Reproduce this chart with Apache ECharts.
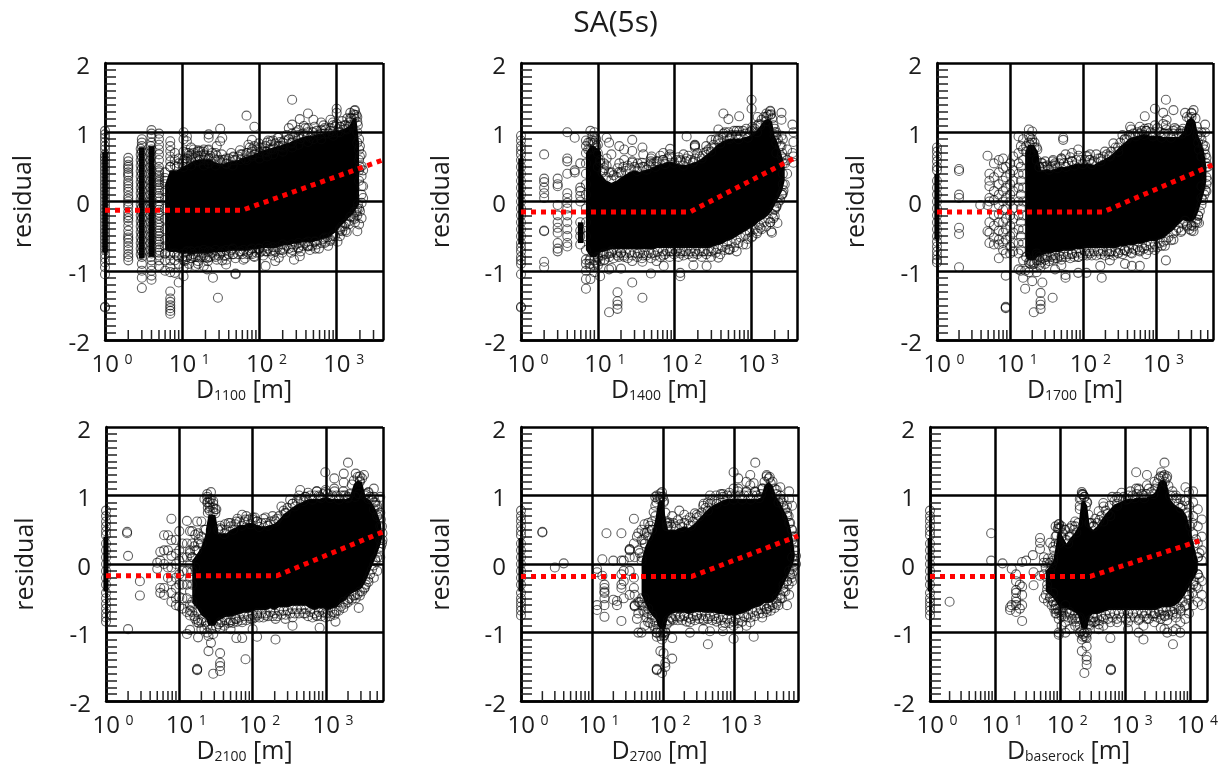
<!DOCTYPE html>
<html><head><meta charset="utf-8">
<style>html,body{margin:0;padding:0;background:#fff}#c{width:1231px;height:765px}</style>
<script src="https://cdn.jsdelivr.net/npm/echarts@6/dist/echarts.min.js"></script>
</head><body><div id="c"></div>
<script>
const title='SA(5s)';
const yTicks=[2,1,0,-1,-2];
const names=['1100','1400','1700','2100','2700','baserock'];
const xMaxes=[3980,3900,5900,6000,8000,18000];
const fit1=[[1,-.125],[60,-.125],[3980,.6]];
const fit2=[[1,-.15],[158,-.15],[3650,.63]];
const fit3=[[1,-.15],[187,-.15],[5900,.53]];
const fit4=[[1,-.17],[215,-.17],[6000,.47]];
const fit5=[[1,-.18],[256,-.18],[8000,.41]];
const fit6=[[1,-.18],[290,-.18],[15000,.35]];

// main black mass: [x, upper edge, lower edge]
const mass1=[[6,.3,-.75],[7,.5,-.78],[8.5,.5,-.78],[10,.55,-.8],[11.5,.58,-.8],[13,.62,-.82],[15,.65,-.8],[17.5,.66,-.8],[20,.66,-.8],[23,.66,-.8],[26,.62,-.78],[30,.6,-.78],[35,.6,-.78],[40,.62,-.76],[46,.64,-.76],[53,.65,-.76],[60,.68,-.76],[70,.7,-.76],[80,.72,-.74],[92,.75,-.74],[105,.78,-.72],[120,.8,-.72],[140,.82,-.72],[160,.84,-.72],[185,.86,-.7],[210,.88,-.68],[240,.9,-.68],[275,.93,-.66],[320,.96,-.66],[365,.98,-.64],[420,1,-.64],[480,1,-.64],[550,1.02,-.62],[630,1.03,-.6],[720,1.04,-.58],[830,1.06,-.55],[950,1.08,-.5],[1100,1.08,-.42],[1250,1.1,-.36],[1450,1.14,-.28],[1650,1.26,-.22],[1800,1.25,-.15],[1950,.9,-.1]];
const mass2=[[10,.5,-.8],[11.5,.42,-.78],[13,.35,-.76],[15,.32,-.74],[17.5,.35,-.74],[20,.4,-.74],[23,.44,-.74],[26,.48,-.74],[30,.5,-.74],[35,.48,-.74],[40,.5,-.74],[46,.52,-.74],[53,.55,-.74],[60,.58,-.72],[70,.6,-.72],[80,.62,-.72],[92,.62,-.72],[105,.6,-.72],[120,.58,-.72],[140,.58,-.72],[160,.6,-.72],[185,.62,-.72],[210,.65,-.72],[240,.7,-.72],[275,.75,-.72],[320,.82,-.7],[365,.88,-.68],[420,.92,-.66],[480,.95,-.62],[550,.96,-.6],[630,.96,-.56],[720,.96,-.52],[830,.98,-.48],[950,1,-.44],[1100,1.05,-.4],[1250,1.12,-.34],[1450,1.22,-.3],[1650,1.25,-.25],[1850,1.2,-.18],[2000,1,-.1],[2200,.9,-.02],[2500,.7,.1],[2700,.55,.25]];
const mass3=[[25,.5,-.85],[28,.5,-.82],[32,.52,-.8],[36,.5,-.8],[41,.52,-.78],[47,.55,-.78],[54,.55,-.76],[62,.56,-.76],[70,.58,-.76],[80,.6,-.74],[92,.6,-.74],[105,.6,-.72],[120,.6,-.72],[140,.58,-.72],[160,.62,-.72],[185,.65,-.72],[210,.68,-.72],[240,.72,-.72],[275,.78,-.72],[320,.85,-.7],[365,.9,-.7],[420,.96,-.68],[480,.98,-.68],[550,1,-.66],[630,1.02,-.66],[720,1.02,-.64],[830,1,-.62],[950,1,-.62],[1100,1,-.6],[1250,.98,-.58],[1450,.98,-.52],[1700,.98,-.46],[2000,.98,-.38],[2300,1.05,-.32],[2600,1.22,-.34],[3000,1.27,-.34],[3400,1.2,-.3],[3700,1,-.2],[4100,.9,-.05],[4500,.75,.1],[4800,.55,.25]];
const mass4=[[15,.1,-.62],[17.5,.2,-.7],[20,.3,-.8],[23,.5,-.85],[34,.5,-.88],[38,.5,-.85],[44,.5,-.82],[50,.55,-.82],[58,.58,-.8],[66,.62,-.78],[76,.62,-.76],[88,.65,-.76],[100,.65,-.74],[115,.62,-.72],[132,.6,-.72],[150,.6,-.72],[175,.62,-.7],[200,.64,-.72],[230,.7,-.68],[265,.78,-.68],[300,.82,-.68],[350,.88,-.66],[400,.92,-.66],[460,.95,-.66],[530,.98,-.66],[610,1,-.7],[700,1,-.72],[800,1,-.7],[920,1.02,-.7],[1060,1.02,-.72],[1220,1,-.7],[1400,1,-.68],[1600,1,-.62],[1850,1,-.58],[2100,1.02,-.5],[2400,1.22,-.46],[2700,1.27,-.44],[3100,1.25,-.4],[3500,1.02,-.3],[4000,.98,-.15],[4500,.9,-.02],[5000,.8,.1],[5600,.65,.25],[5900,.45,.35]];
const mass5=[[50,.1,-.5],[56,.3,-.62],[62,.4,-.72],[70,.5,-.8],[78,.7,-.85],[85,.95,-.95],[92,.98,-1],[100,.98,-1],[108,.75,-1],[118,.55,-.82],[130,.55,-.78],[150,.55,-.76],[175,.58,-.76],[200,.6,-.76],[230,.58,-.78],[265,.62,-.76],[300,.68,-.75],[350,.75,-.75],[400,.82,-.76],[460,.88,-.76],[530,.92,-.76],[610,.95,-.78],[700,.98,-.78],[800,1,-.8],[920,1,-.8],[1060,1,-.8],[1220,1,-.78],[1400,1,-.76],[1600,1,-.74],[1850,1,-.7],[2100,1,-.68],[2400,1.02,-.66],[2700,1.2,-.62],[3100,1.25,-.62],[3500,1.2,-.6],[4000,1.02,-.55],[4500,.95,-.45],[5000,.85,-.35],[5600,.75,-.25],[6200,.6,-.15],[6800,.4,-.05],[7200,.2,.05]];
const mass6=[[60,-.05,-.45],[70,.02,-.5],[78,.1,-.55],[85,.3,-.6],[92,.52,-.65],[100,.52,-.68],[110,.45,-.7],[125,.35,-.7],[140,.42,-.72],[165,.5,-.75],[190,.6,-.8],[210,.95,-.98],[235,.98,-1],[260,.9,-1],[285,.6,-.82],[320,.55,-.78],[370,.6,-.78],[430,.7,-.76],[500,.78,-.74],[580,.85,-.72],[680,.92,-.72],[800,.95,-.72],[950,.98,-.72],[1100,1,-.72],[1300,1,-.72],[1500,1.02,-.72],[1800,1.02,-.72],[2100,1.02,-.72],[2500,1.05,-.72],[2900,1.1,-.72],[3300,1.25,-.7],[3800,1.28,-.68],[4300,1.25,-.68],[4900,1,-.68],[5700,.92,-.66],[6600,.88,-.62],[7600,.85,-.55],[8800,.75,-.45],[10000,.55,-.35],[11500,.3,-.25],[13000,.1,-.15]];

// narrow solid columns at repeated distances
const bands1=[
 [[.92,-.74],[1.09,-.74],[1.09,.72],[.92,.72]],
 [[2.75,-.82],[3.25,-.82],[3.25,.78],[2.75,.78]],
 [[3.65,-.8],[4.35,-.8],[4.35,.8],[3.65,.8]]];
const bands2=[
 [[.92,-.62],[1.08,-.62],[1.08,.62],[.92,.62]],
 [[7,-.7],[8,-.8],[9.5,-.8],[11,-.7],[11,.72],[9,.8],[8,.8],[7,.7]],
 [[5.5,-.6],[6.5,-.6],[6.5,-.3],[5.5,-.3]]];
const bands3=[
 [[.92,-.55],[1.08,-.55],[1.08,.4],[.92,.4]],
 [[16,-.78],[17.5,-.85],[21,-.85],[27,-.75],[27,.4],[24,.72],[21,.82],[17.5,.82],[16,.7]]];
const bands4=[
 [[.92,-.4],[1.08,-.4],[1.08,.4],[.92,.4]],
 [[23,-.8],[25,-.9],[31,-.9],[34,-.8],[34,.5],[31,.72],[25,.72],[23,.5]]];
const bands5=[[[.92,-.4],[1.08,-.4],[1.08,.38],[.92,.38]]];
const bands6=[[[.92,-.4],[1.08,-.4],[1.08,.38],[.92,.38]]];

// second ring of circles around the mass
const fringe1=[[10.8,.62,-.86],[12.2,.66,.7,-.9],[14,.7,-.76],[16,.74,-.86],[18.7,.72,-.74],[21.5,.6,.74,-.86],[24.5,.7,-.74],[28,.66,-.84],[32.5,.68,-.72],[37.5,.54,-.84],[43,.7,-.7],[49,.6,-.82],[56,.74,-.72],[65,.62,-.82],[75,.78,-.7],[86,.68,-.8],[98,.84,-.68],[112,.72,-.78],[130,.88,-.68],[150,.78,-.78],[172,.92,-.66],[197,.8,-.74],[225,.96,-.64],[257,.84,-.74],[297,1,-.62],[342,.9,-.72],[392,1.06,-.6],[450,.92,-.7],[515,1.08,-.58],[590,.96,-.68],[675,1.1,-.54],[775,.98,-.64],[890,1.14,-.5],[1025,1,-.58],[1175,1.16,-.36],[1350,1.04,-.44],[1550,1.2,-.22],[1725,1.32,-.3],[1880,1.1,-.04],[2000,.8,.65,.5,-.14]];
const fringe2=[[10.7,.56,-.86],[12.2,.48,-.84],[14,.42,-.8],[16,.38,-.82],[18.7,.42,-.8],[21.5,.5,-.78],[24.5,.52,-.82],[28,.56,-.78],[32.5,.44,-.8],[37.5,.56,-.82],[43,.46,-.78],[49,.58,-.82],[56,.5,-.78],[65,.66,-.8],[75,.54,-.76],[86,.68,-.8],[98,.56,-.76],[112,.64,-.8],[130,.52,-.78],[150,.66,-.76],[172,.56,-.8],[197,.7,-.76],[225,.62,-.8],[257,.8,-.76],[297,.72,-.8],[342,.9,-.74],[392,.84,-.76],[450,1,-.7],[515,.9,-.7],[590,1.02,-.66],[675,.9,-.6],[775,1.02,-.62],[890,.92,-.54],[1025,1.08,-.5],[1175,1,-.46],[1350,1.18,-.4],[1550,1.16,-.36],[1750,1.3,-.3],[1925,1.1,-.24],[2100,.96,-.08],[2350,.8,.02],[2600,.62,.16]];
const fringe3=[[26.5,.56,-.88],[30,.58,-.84],[34,.46,-.86],[38.5,.6,-.84],[44,.48,-.82],[50,.62,-.84],[58,.5,-.8],[66,.64,-.82],[75,.52,-.8],[86,.66,-.8],[98,.54,-.78],[112,.66,-.78],[130,.54,-.78],[150,.68,-.78],[172,.58,-.76],[197,.72,-.78],[225,.66,-.76],[257,.84,-.78],[297,.78,-.74],[342,.96,-.76],[392,.9,-.72],[450,1.04,-.74],[515,.94,-.7],[590,1.08,-.72],[675,.96,-.68],[775,1.06,-.7],[890,.94,-.66],[1025,1.06,-.66],[1175,.92,-.64],[1350,1.04,-.56],[1575,.92,-.56],[1850,1.04,-.42],[2150,1.02,-.44],[2450,1.28,-.28],[2800,1.2,-.4],[3200,1.32,-.36],[3550,1.08,-.26],[3900,.94,-.14],[4300,.82,.02],[4650,.68,.16],[5000,.5,.3]];
const fringe4=[[14,.16,-.68],[16,.26,-.76],[18.5,.36,-.86],[36,.56,-.94],[41,.44,-.9],[47,.6,-.86],[54,.5,-.86],[62,.66,-.84],[71,.56,-.82],[82,.7,-.82],[94,.58,-.8],[107,.68,-.78],[123,.54,-.78],[140,.66,-.78],[162,.56,-.76],[187,.7,-.76],[215,.66,-.76],[247,.84,-.74],[282,.74,-.74],[325,.94,-.72],[375,.84,-.72],[430,1,-.72],[495,.92,-.72],[570,1.04,-.76],[655,.94,-.78],[750,1.06,-.76],[860,.96,-.76],[990,1.08,-.78],[1140,.96,-.76],[1310,1.06,-.74],[1500,.94,-.68],[1725,1.06,-.64],[1975,.96,-.56],[2250,1.16,-.52],[2550,1.32,-.5],[2900,1.2,-.46],[3300,1.3,-.36],[3750,1.04,-.22],[4250,.94,-.08],[4750,.86,.04],[5300,.72,.18],[5800,.55,.3]];
const fringe5=[[47,.16,-.56],[53,.36,-.68],[59,.46,-.78],[66,.56,-.86],[74,.76,-.9],[81,.9,-1],[104,.92,-1.04],[113,.6,-.88],[124,.6,-.84],[140,.6,-.82],[162,.64,-.82],[187,.54,-.82],[215,.64,-.84],[247,.56,-.8],[282,.74,-.82],[325,.7,-.8],[375,.88,-.82],[430,.78,-.8],[495,.94,-.82],[570,.88,-.84],[655,1.02,-.82],[750,.92,-.86],[860,1.04,-.86],[990,.94,-.84],[1140,1.06,-.86],[1310,.94,-.84],[1500,1.06,-.78],[1725,.94,-.78],[1975,1.06,-.76],[2250,.96,-.72],[2550,1.1,-.72],[2900,1.28,-.66],[3300,1.18,-.68],[3750,1.1,-.64],[4250,.9,-.6],[4750,.9,-.5],[5300,.8,-.4],[5900,.7,-.3],[6500,.5,-.2],[7000,.3,-.1],[7500,.12,0]];
const fringe6=[[56,.02,-.5],[65,.08,-.55],[74,-.02,-.6],[81,.2,-.66],[88,.42,-.72],[96,.58,-.7],[105,.4,-.76],[117,.5,-.76],[132,.3,-.78],[152,.56,-.8],[177,.46,-.84],[200,.85,-.9],[222,1.02,-1.06],[248,.84,-1.06],[272,.72,-.88],[302,.6,-.84],[345,.66,-.84],[400,.64,-.82],[465,.84,-.8],[540,.74,-.8],[630,.98,-.78],[740,.88,-.8],[875,1.04,-.78],[1025,.94,-.8],[1200,1.06,-.78],[1400,.96,-.78],[1650,1.08,-.8],[1950,.96,-.76],[2300,1.1,-.8],[2700,1.02,-.76],[3100,1.18,-.78],[3550,1.34,-.74],[4050,1.2,-.76],[4600,1.14,-.74],[5300,1.06,-.74],[6100,.96,-.72],[7100,.82,-.68],[8200,.92,-.62],[9400,.7,-.52],[10700,.6,-.42],[12200,.36,-.32],[13800,.16,-.2]];

// rows: [x, y, y, ...] circles
const pts1=[
[1,1.02,.97,.92,.86,.8,.75,.68,.6,.5,.4,.3,.2,.1,0,-.1,-.2,-.3,-.4,-.5,-.6,-.7,-.76,-.82,-.88,-.95,-1.05,-1.52,-1.53,.64,.55,.45,.35,.25,.15,.05,-.05,-.15,-.25,-.35,-.45,-.55,-.65],
[2,.63,.58,.53,.5,.47,.42,.39,.36,.3,.26,.22,.18,.14,.08,.04,0,-.04,-.08,-.15,-.2,-.24,-.28,-.35,-.42,-.48,-.52,-.55,-.6,-.65,-.7,-.76,-.8,-.85],
[3,.9,.85,.8,.72,.64,.56,.48,.4,.32,.24,.16,.08,0,-.08,-.16,-.24,-.32,-.4,-.48,-.56,-.64,-.72,-.8,-.9,-1,-1.1,-1.25],
[2.9,.76,.68,.6,.52,.44,.36,.28,.2,.12,.04,-.04,-.12,-.2,-.28,-.36,-.44,-.52,-.6,-.68,-.76],
[4,1.03,.98,.93,.85,.75,.65,.55,.45,.35,.25,.15,.05,-.05,-.15,-.25,-.35,-.45,-.55,-.65,-.75,-.85,-.92,-1,-1.07,-1.13],
[3.9,.8,.7,.6,.5,.4,.3,.2,.1,0,-.1,-.2,-.3,-.4,-.5,-.6,-.7,-.8],
[5,.98,.9,.82,.75,.68,.6,.5,.45,.42,.38,.35,.31,.28,.24,.2,.16,.12,.08,.05,0,-.05,-.08,-.12,-.16,-.2,-.25,-.3,-.34,-.38,-.42,-.46,-.5,-.55,-.58,-.62,-.66,-.7,-.74,-.78,-.85,-.93],
[6,.42,.34,.25,.15,.05,-.1,-.25,-.4,-.55,-.65,-.75,-.85,-1],
[7,.87,.8,.73,.65,.58,.5,-.75,-.85,-.95,-1.02,-1.3,-1.4,-1.45,-1.5,-1.54,-1.58,-1.62],
[8,.7,.6,.52,-.75,-.85,-1.03],[9,.62,.55,-.8,-.9,-1.17],[10.4,1,.9,.72,.6,.5,-.75,-.85,-.95,-1.08],
[11.5,.94,.87,.7,.62,.55,-.72,-.8,-.96],[13,.78,.68,.6,.52,-.72,-.82],[14,.75,-.8],[16,.72,.66,.58,-.72,-.8,-.9],[15,-.93],
[17,.73,.6],[19,.75,.68,.6,.52,-.7,-.78,-.93],[21,-.98,-.82],[22,.97,.92,.75,.62,.55,-.72,-.8],[25,-1.1],[27,.7,.6,.52,-.7,-.8],
[29,-1.39],[28,.8],[31,1.05,.87,.58,-.75],[33,.92,.6,-.85],[37,.62,.55,-.7,-.78,-.91],[45,.6,.52,-.68,-.76],[46,.65],[49,-1.04,-1.05],
[57,.68,.6],[62,-.84,-.7],[68,1.24,.7,.6],[72,.82,-.74],[80,.89,.75,.65,-.68,-.76],[86,1.08,.8],[85,-.79],[100,.78,.7,.62,-.68,-.74],
[120,-.93,.72],[125,.85,.72,.65,-.64,-.72],[139,.87,.75],[150,.88,.75,.68,-.66,-.7],[160,-.86],[178,.92,-.81,.8],[200,.85,.78,.72,-.62,-.7],
[240,1.06,.9],[265,1.47,1.11,.98,.85,.78,-.62,-.7],[280,-.84],[320,1.03,.92,.82,-.6,-.68],[333,1.19,-.79],[375,1.09,.95],[425,1.27,1.06,.95,.86,-.58,-.65],
[440,-.64],[500,1.18,1,.9],[530,-.68,-.58],[630,1.14,.98,.9],[700,1.06,.98,-.52,-.6],[760,-.52],[830,1.18,1.02,-.57],[900,1.1,1,.95,-.48],
[1000,1.34,1.28,1.12],[1100,1.08,1,-.4,-.5],[1180,-.43],[1300,1.1,1.05,-.32,-.42],[1370,1.2],[1440,-.33],[1500,1.28,1.2,1.1,-.22],
[1700,1.31,1.25,1.2,-.15,-.25],[1850,1.22,1.15,1,.85,-.1,-.2,-.43],[1950,.75,.6,.45,.3,-.33],[2100,.68,.51,.37,.22,.1,-.02,-.24],[2200,.45,.22,.05]];
const pts2=[
[1,.95,.88,.8,.74,.68,.5,.3,.1,-.1,-.3,-.5,-.66,-.72,-.8,-.85,-.9,-1.05,-1.52,-1.53,.6,.4,.2,0,-.2,-.4,-.6],
[2,.68,.33,.28,.2,.12,.05,-.42,-.43,-.87,-.95],[3,.33,.25,.22,-.05,-.2,-.3,-.38,-.45,-.6,-.68,-.72],
[4,1,.62,.58,.4,.12,.05,-.02,-.1,-.2,-.3,-.4,-.5,-.6,-.65],[5,.92,.45,.42],[5.9,.55,.2,.15,.08,0,-.3,-.42,-.5,-.62],
[7,.88,.8,.7,.55,.4,.25,.1,-.1,-.3,-.5,-.7,-.84,-.9,-1.0,-1.12,-1.26],[8,.86,.75,1.02,-.82,-.95,-1.12],[9,1.0,.85,-.85,-1.02],[10,.82,.7,-.82,-.92],
[7.5,.85,.75],[8.5,.94,.84,.88],[9.5,.9,.8,-.88],[7.8,-.9,-.85],[8.8,-.92],
[10.7,.6,-1.08],[12,.55,.45,-.75,-.85],[13,.92,.62,.52],[14,.85,-.98,-.75,-1.6],[15,.68,.42,-.96,-.72],[18,-1.31,-1.44,-1.49,-1.55,.48,-.78],
[19,.8,.55],[20,-.97,.42,-.74],[22,.75,.6,-.8],[28,.89,.73,-.86,-1.17,.58],[33,.55,-.75],[38,.78,-.87,-1.39,.5],[39,.68,-.78],[49,-1.04,.55,.62,-.75],
[50,.65],[58,-.86,.58],[71,.7,.6,-.78],[72,-.93],[87,.76,.65,-.72],[118,-1.08,-1.03,.6,-.75],[130,.68,-.72],[143,.94,.62],[175,-.92,.58,-.75],[183,.82,.81,.8,.78],
[230,.66,-.72],[260,-.93,.72],[300,.89,.78,-.72],[370,1.04,-.81,.9],[430,1.27,.98],[500,1.19,1,-.69],[520,-.69,.92],[640,-.72,1.02],[690,1.23,1.02],[850,-.62,1.05],
[1000,1.47,1.34,1.02,-.52],[1200,-.43,1.1,1.22],[1300,1.1,-.38],[1560,1.27,1.22],[1750,1.31,1.25,-.3],[1800,-.43,1.26],[1840,-.45],[2000,-.21,1.05,.95,-.12],
[2100,-.07,1,.85,.7],[2170,-.31],[2450,1.28,1.18,.95,.8,.65,.1],[2550,.12,.9,.55,.4,.25],[2900,.75,.6,.4],[3400,1.11,.7],[3500,1,.86,.65,.56]];
const pts3=[
[1,.78,.72,.65,.58,.5,.45,.3,.1,-.1,-.3,-.5,-.58,-.65,-.72,-.78,-.84,-.88,.2,0,-.2,-.4],
[2,.47,.44,.1,.05,-.38,-.47,-.95],[3.9,-.05],[4.9,.66,-.43,-.05],
[5.2,.4,.3,.22,.05,0,-.3,-.45,-.6],[6,.55,.35,.15,.02,-.2,-.35,-.52,-.62],[7,.6,.42,.25,.1,-.05,-.18,-.3,-.42,-.55,-.62,-.82],
[8,.62,.48,.3,.15,0,-.12,-.3,-.45,-.6,-.7],[8.7,.5,.35,.2,.05,-.1,-.25,-.4,-.55,-.75,-1.07,-1.53,-1.54,-1.52],
[10,.55,.4,.25,.1,0,-.2,-.35,-.5,-.65,-.75],[11,.65,.45,.3,.15,-.1,-.25,-.45,-.6,-.72],[13,.94,.7,.55,.4,.2,0,-.2,-.4,-.6,-.75,-.98],[14,.8,.5,.3,.1,-.1,-.3,-.5,-.7,-1],
[15,.9,.75,.6,.4,.2,0,-.2,-.4,-.6,-.85,-1.1],[16,-1.26,-1.0],[16.5,.8,.72,-.8],[18.8,.92,.82,.72,-.9,-.86],[21.5,.85,.78,-.88],[23.5,.75,-.78],
[18,1.04,.95,.85,-.88,-1.02],[20,1.01,.9,.85,-.88,-1.15],[21,-1.6,-.9],[23,.78,.6,-.75,-.85,-1.02],[25,.5,-.8,-.92],
[26,-1.44,-1.49,-1.55,-1.32,-.95],[27.5,-1.17,.55],[30,.5,-.8,-.9],[38,-1.39,.52,.58,-.78],[41,-.98,.55,-.82],[50,.62,.6,-.8,-.92],[53,.92,.89],[57,-1.1,-1.06,.68],
[70,.7,.58,-.75],[85,.75,-1.03,-.8],[110,-1.03,.65,-.75],[123,.68,.6,-.75],[170,-.93,.62,-.7],[178,-1.1],[230,.65,-.72,-.85],[300,.72,-.75],[370,.9,-.7,-.9],[435,1.08,.95],
[460,-.93,-.75],[590,-.93,.98,-.7],[690,1.23,1.05],[720,-.76,1.02],[950,1.34,1.1,-.7],[1230,1.28,1.12],[1300,-.64,.98],[1340,1.47,-.85,1.1],[1370,1.18],[1700,1.32,1.02,-.55],
[1770,1.06],[2200,.98,-.42],[2600,1.02,-.36],[3000,1.28,1.22,-.35,-.42],[3200,-.43],[3600,.95,-.3],[3700,-.21,.85],[3800,-.31,.75],[4100,.22,1,.65,.05],[4600,1.11,1,.8],[4800,.63,.5,.35,.15]];
const pts4=[
[1,.78,.7,.62,.55,.48,.42,.3,.1,-.1,-.3,-.42,-.5,-.58,-.65,-.72,-.78,-.84,.2,0,-.2],
[1.94,.47,.45],[2,.12,-.95],[2.9,-.25,-.46],[5,-.07,.02],[5.5,.18,.05,-.35,-.42],[6.2,.42,.2,0,-.35,-.45],[7,.42,.2,-.05,-.2],[7.8,.66,.35,.12,-.05,-.25,-.42,-.55],
[9,.35,.15,0,-.2,-.35,-.5,-.6],[10,.48,.2,.05,-.15,-.3,-.48,-.62],[11,.3,.1,-.1,-.3,-.5,-.65],[12.7,.63,.3,.1,-.1,-.3,-.5,-.7,-1.02],[14,.48,.2,0,-.2,-.4,-.6,-.75,-.96],
[15,.48,.3,.1,-.1,-.3,-.55,-.7],[16.5,.43,.2,-.05,-.8],[17.5,-1.54,-1.55,-1.53,.62,-.85],[18,.3,.45,-.82,-1.07],[20,.4,.62,-.85,-.95],[22,.5,.95,-.95],
[24,.98,1.02,.9,-.9,-1],[24.5,.9,.82,.75],[26,.95,.9,.84,.78],[29,.92,.82,.76],[31,.8,.74],[25,-1.27,-1.05],[27,1.05,.95,-.95,-1.15],[29,-1.6,.88,-1.02],[32,.8,-.92],[36,-1.3,-1.44,-1.49,-1.56,.52,-.85],[42,.58,-.82],[50,.6,-.85,-.95],
[60,.62,-1.08,-.8],[72,.72,-1.08,-.85],[80,-1.39,.65],[100,.68,-.8,-.95],[115,-1.06,.62,-.75],[150,.68,-.75],[205,-1.1,.62,-.8],[280,.75,-.8],[350,.88,-.78,-.9],[445,1.08,.95],
[520,.98,-.72],[750,1.06,-.75],[820,-.93,.98],[980,1.34,1.05,-.72],[1300,1.25,1.1,-.7],[1350,-.84],[1750,1.32,1.19,1,-.55],[2000,1.48,.98,-.52],[2500,.98,-.45],[2800,-.64,1.02],[2900,1.28,1.22,-.4],
[3400,-.34,1],[3800,-.26,1.05,.95],[4500,1.1,.98,.8,-.2],[4700,.07,.9],[5000,.85,.7,-.1],[5500,.98,.75,.55,.35,.1]];
const pts5=[
[1,.78,.7,.63,.55,.48,.42,.3,.1,-.1,-.3,-.42,-.5,-.56,-.62,-.68,-.75,.2,0,-.2],
[2,.46,.47],[3,-.05],[4,.01],[11.8,-.07,-.6,-.67,-.12],[14,.07,-.17],[15,-.3,-.35,-.4,-.42,-.5,-.6,-.77],[16,.45],[20,.05,-.52],[22.5,-.54,-.6],
[26,.45,.05,-.83,-.15,-.3,-.35],[28,.05,-.1,-.25,-.5],[34,.22,.21,.2,.1,-.1,-.45],[39,.66,.3,-.2,-.35],[40,-.6,-.62,-.61,.1,-.45],[43,-.8,.4],[45,-1,.2,.45,-.55,-.72],[50,-1,.5,.35,.05,-.6],
[55,.58,.45,.3,-.5,-.7,-.9],[62,.6,.5,-.65,-.85],[70,.62,.5,-.75],[78,.98,.85,-.95],[82,-1.54,-1.55,-1.53,-1.06,1,-1],[92,-1.27,1.03,.95,-1.05],[97,-1.59,1.05,-1.1],[102,-1.3,.9,-1.05],[108,-1.44,-1.5,-.98],
[115,.62,.55],[135,-1.08,-1.38,.7,-.8],[170,.78,-.78],[200,.72,-.75],[240,-1,.68,-.85],[300,.72,-.75],[370,.85,-.8,-.95],[430,-1.17,.9],[460,-.98,1],[560,1,-.8],[700,1.02,-.9,-.98],
[990,1.34,1.1,-1.09,-.9],[1150,1.25,1.1,-.95],[1500,1.2,1.05,-.9],[1700,1.3,1.15,-.85],[1900,-1.06,1.18],[2000,1.48,1.05],[2500,1.1,-.78],[2900,1.3,-.7,-.65],[3200,1.27,-.62],[4000,1.08,-.58,-.5],
[4500,1.12,1,-.5],[5000,.95,-.4,-.3],[5600,-.6,.85,.7,-.25],[6000,1.06,.95,.6,-.1,-.45],[6600,.85,.5,.35,.1,-.15,-.25],[7200,.4,.2,-.02]];
const pts6=[
[1,.78,.7,.63,.55,.48,.42,.3,.1,-.1,-.3,-.42,-.5,-.56,-.62,-.68,-.75,.2,0,-.2],
[2,-.55],[8.7,.45,.05],[13,.01],[17,-.63,-.67],[18,-.07,-.6],[21,-.38,-.42,-.5,-.55,-.6,-.7,-.15,-.25],[24,-.3,-.65],[26,.03,-.6,-.83,-.33,-.45],[30,.05],[38,.13],
[39,-.12,-.31],[49,.38,.31,.22,-.17],[56,.1,-.15],[63,-.2,-.37,-.3,.02],[70,.31,-.48,-.1],[78,.05,.25,-.55,-.42],[85,.55,.4,-.65,-.72],[95,.58,.52,.3,-.8,-1.03,-1.0],[105,.55,-.68,-.9],[120,.5,.35,-.6,-.85,-1.0],
[140,.4,.52,-.7,-.95],[170,.55,-.8,.62,-.9],[200,.8,.95,-.78,-1],[215,-1.27,1.02,1.05,-1.1],[225,1.01,-1.02],[235,-1.59,.98,-1.05],[255,-1.47,-1.4,-1.35,.9,-1.08,-1.2],[280,.6,-.9],[330,.55,-.85,-.78],[390,.77,-.88,-.95],
[460,.89,.62,-.9],[590,.7,-.85,-1.08],[600,-1.54,-1.55,-1.53],[750,.98,.85,-.85],[1100,.95,-.95,-.85],[1470,1.34,1.1],[1600,1.1,-1,-.82],[1900,-1.1,1,-.9],[2150,1.3,1.15,-.8],[2800,1.2,-.85,-.72],[3500,-.93,1.28,-.8],
[4000,1.48,1.3,-.95,-.75],[4400,1.28,-1,-.82],[5400,-1.17,1,-.98,-.7],[6000,1,-.95,-.78],[7000,.95,-1,-.85,-.65],[8400,1.12,.92,-.6,-.8],[9500,1.05,.85,-.72,-.45],[11000,1.06,.9,.7,.45,-.6,-.3],[13000,.8,.55,.3,.1,-.15,-.35,-.55],[15000,.65,.4,.2,.05,-.25,-.45,-.6]];

const allFits=[fit1,fit2,fit3,fit4,fit5,fit6];
const allMass=[mass1,mass2,mass3,mass4,mass5,mass6];
const allBands=[bands1,bands2,bands3,bands4,bands5,bands6];
const allFringe=[fringe1,fringe2,fringe3,fringe4,fringe5,fringe6];
const allPts=[pts1,pts2,pts3,pts4,pts5,pts6];

// layout only
const boxes=[[105,63,278,277],[521,63,276,277],[937,63,276,277],[106,427,277,276],[521,427,277,276],[930,427,277,276]];
const nameGaps=[69,67,68,68,67,67];
const MASS_INSET=.05;

const chart=echarts.init(document.getElementById('c'),null,{renderer:'canvas'});
const FONT='"Open Sans"', INK='#1c1c1c';
const grid=[],xAxis=[],yAxis=[],series=[];
const minorVals=m=>{const o=[];for(let d=1;d<=m;d*=10)for(let k=2;k<=9;k++)if(k*d<m)o.push([k*d,-2]);return o;};
const rowsToPoints=rows=>rows.flatMap(([x,...ys])=>ys.map(y=>[x,y]));
names.forEach((nm,i)=>{
 const b=boxes[i];
 grid.push({left:b[0],top:b[1],width:b[2],height:b[3],show:false});
 xAxis.push({gridIndex:i,type:'log',logBase:10,min:1,max:xMaxes[i],
  name:`{a|D}{b|${nm}}{a| [m]}`,nameLocation:'middle',nameGap:33,
  nameTextStyle:{rich:{a:{fontFamily:FONT,fontSize:25,color:INK},b:{fontFamily:FONT,fontSize:14,color:INK,verticalAlign:'bottom',padding:[9,0,0,0]}}},
  axisLine:{show:true,onZero:false,lineStyle:{color:'#000',width:2.5}},axisTick:{show:false},
  splitLine:{show:true,lineStyle:{color:'#000',width:2.5}},
  axisLabel:{margin:13,hideOverlap:false,showMinLabel:true,showMaxLabel:true,
   formatter:v=>{const e=Math.log10(v);return Math.abs(e-Math.round(e))<1e-6?`{p|}{a|10}{s| ${Math.round(e)}}`:'';},
   rich:{p:{width:14},a:{fontFamily:FONT,fontSize:24,color:INK},s:{fontFamily:FONT,fontSize:14,color:INK,verticalAlign:'top',padding:[0,0,8,2]}}}});
 yAxis.push({gridIndex:i,type:'value',min:-2,max:2,interval:1,
  name:'residual',nameLocation:'middle',nameGap:nameGaps[i],nameRotate:90,
  nameTextStyle:{fontFamily:FONT,fontSize:25,color:INK},
  axisLine:{show:true,onZero:false,lineStyle:{color:'#000',width:2.5}},
  axisTick:{show:false,inside:true},minorTick:{show:true,splitNumber:10,length:11,lineStyle:{color:'#222',width:1.5}},
  splitLine:{show:true,lineStyle:{color:'#000',width:2.5}},
  axisLabel:{margin:15,verticalAlign:'top',lineHeight:8,fontFamily:FONT,fontSize:24,color:INK,formatter:v=>yTicks.includes(v)?String(v):''}});
 const mass=allMass[i];
 const edge=mass.map(r=>[r[0],r[1]]).concat(mass.slice().reverse().map(r=>[r[0],r[2]]));
 const solid=mass.map(r=>[r[0],r[1]-MASS_INSET]).concat(mass.slice().reverse().map(r=>[r[0],r[2]+MASS_INSET]));
 [solid,...allBands[i]].forEach(poly=>series.push({type:'custom',xAxisIndex:i,yAxisIndex:i,coordinateSystem:'cartesian2d',silent:true,z:3,
  data:poly,renderItem:(p,api)=>p.dataIndex?null:{type:'polygon',shape:{points:poly.map(d=>api.coord(d))},style:{fill:'#000'}}}));
 series.push({type:'scatter',xAxisIndex:i,yAxisIndex:i,clip:false,silent:true,z:4,symbol:'circle',symbolSize:9,
  itemStyle:{color:'rgba(0,0,0,0)',borderColor:'rgba(10,10,10,.8)',borderWidth:1.1},
  data:edge.concat(rowsToPoints(allFringe[i]),rowsToPoints(allPts[i]))});
 series.push({type:'custom',xAxisIndex:i,yAxisIndex:i,coordinateSystem:'cartesian2d',silent:true,z:2,data:minorVals(xMaxes[i]),
  renderItem:(p,api)=>{const c=api.coord([api.value(0),-2]);return{type:'line',shape:{x1:c[0],y1:c[1],x2:c[0],y2:c[1]-10},style:{stroke:'#222',lineWidth:1.5}};}});
 series.push({type:'line',xAxisIndex:i,yAxisIndex:i,clip:false,silent:true,z:6,showSymbol:false,data:allFits[i],
  lineStyle:{color:'#f00',width:5,type:[5,5]}});
});
chart.setOption({animation:false,backgroundColor:'#fff',
 title:{text:title,left:'center',top:3,textStyle:{fontFamily:FONT,fontSize:30,fontWeight:'normal',color:INK}},
 grid,xAxis,yAxis,series});
</script></body></html>
